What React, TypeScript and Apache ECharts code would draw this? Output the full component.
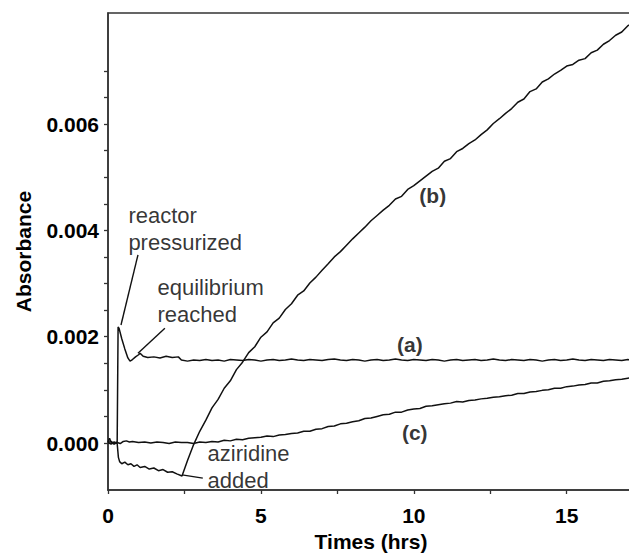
import React, { useEffect, useRef } from "react";
import * as echarts from "echarts";

// ---------- data ----------
const timesEarlyA = [0, 0.1, 0.2, 0.3, 0.33, 0.36, 0.45, 0.55, 0.65, 0.72, 0.8, 0.9, 1.0, 1.05, 1.15, 1.3, 1.5, 1.7, 1.9, 2.1, 2.3, 2.4];
const absEarlyA = [0.00001, 0.00003, -0.00001, 0.00002, 0.00218, 0.00216, 0.00196, 0.00177, 0.0016, 0.00154, 0.00157, 0.00162, 0.00166, 0.00169, 0.00163, 0.00161, 0.00162, 0.0016, 0.00163, 0.00161, 0.00162, 0.00156];

const timesEarlyB = [0, 0.1, 0.2, 0.3, 0.34, 0.38, 0.45, 0.55, 0.65, 0.75, 0.85, 0.95, 1.05, 1.2, 1.35, 1.5, 1.65, 1.8, 1.95, 2.1, 2.25, 2.42];
const absEarlyB = [0.00001, -0.00002, 0.00002, -0.00001, -0.00027, -0.00035, -0.00039, -0.00036, -0.00041, -0.00039, -0.00044, -0.00041, -0.00046, -0.00044, -0.00049, -0.00047, -0.00052, -0.0005, -0.00055, -0.00054, -0.00058, -0.00062];

const timesEarlyC = [0, 0.05, 0.1, 0.2, 0.3, 0.4, 0.5, 0.6, 0.7, 0.8, 1.0, 1.2, 1.4, 1.6, 1.8, 2.0, 2.2, 2.4];
const absEarlyC = [0.00002, 0.00009, 0.00001, -0.00002, 0.00001, -0.00001, 0.00003, 0.00004, 0.00002, 0.00003, 0.00001, 0.00002, 0.0, 0.00002, 0.00001, -0.00001, 0.00002, 0.00001];

const timesLate = [
  2.6, 2.8, 3.0, 3.2, 3.4, 3.6, 3.8, 4.0, 4.2, 4.4,
  4.6, 4.8, 5.0, 5.2, 5.4, 5.6, 5.8, 6.0, 6.2, 6.4,
  6.6, 6.8, 7.0, 7.2, 7.4, 7.6, 7.8, 8.0, 8.2, 8.4,
  8.6, 8.8, 9.0, 9.2, 9.4, 9.6, 9.8, 10.0, 10.2, 10.4,
  10.6, 10.8, 11.0, 11.2, 11.4, 11.6, 11.8, 12.0, 12.2, 12.4,
  12.6, 12.8, 13.0, 13.2, 13.4, 13.6, 13.8, 14.0, 14.2, 14.4,
  14.6, 14.8, 15.0, 15.2, 15.4, 15.6, 15.8, 16.0, 16.2, 16.4,
  16.6, 16.8, 17.0, 17.2,
];

const absLateA = [
  0.00154, 0.00156, 0.00155, 0.00157, 0.00155, 0.00156, 0.00154, 0.00157, 0.00156, 0.00155,
  0.00157, 0.00156, 0.00154, 0.00156, 0.00157, 0.00155, 0.00156, 0.00158, 0.00156, 0.00155,
  0.00157, 0.00156, 0.00155, 0.00157, 0.00158, 0.00156, 0.00155, 0.00157, 0.00156, 0.00154,
  0.00156, 0.00157, 0.00155, 0.00156, 0.00158, 0.00156, 0.00155, 0.00157, 0.00156, 0.00155,
  0.00157, 0.00156, 0.00154, 0.00156, 0.00157, 0.00155, 0.00156, 0.00157, 0.00155, 0.00156,
  0.00158, 0.00156, 0.00155, 0.00157, 0.00156, 0.00155, 0.00157, 0.00156, 0.00154, 0.00156,
  0.00157, 0.00155, 0.00156, 0.00158, 0.00156, 0.00155, 0.00157, 0.00156, 0.00155, 0.00157,
  0.00156, 0.00155, 0.00157, 0.00156,
];

const absLateB = [
  -0.00033, -0.00003, 0.00022, 0.00043, 0.00066, 0.00082, 0.00103, 0.00117, 0.00138, 0.00152,
  0.0017, 0.00181, 0.00199, 0.00209, 0.00226, 0.00235, 0.00251, 0.00262, 0.00278, 0.00286,
  0.00301, 0.00312, 0.00325, 0.00337, 0.0035, 0.0036, 0.00372, 0.00384, 0.00395, 0.00406,
  0.00418, 0.00428, 0.00438, 0.00447, 0.00459, 0.00464, 0.00477, 0.00484, 0.00493, 0.00502,
  0.00511, 0.00517, 0.0053, 0.00535, 0.00548, 0.00554, 0.00563, 0.0057, 0.0058, 0.00589,
  0.00601, 0.0061, 0.0062, 0.00629, 0.00641, 0.00647, 0.00661, 0.00666, 0.00679, 0.00685,
  0.00694, 0.00701, 0.00709, 0.00712, 0.0072, 0.00723, 0.00734, 0.00739, 0.0075, 0.00757,
  0.00767, 0.00773, 0.00785, 0.0079,
];

const absLateC = [
  0.00001, -0.00001, 0.00002, 0.00001, 0.00003, 0.00002, 0.00005, 0.00004, 0.00007, 0.00006,
  0.00009, 0.0001, 0.00011, 0.00013, 0.00012, 0.00015, 0.00016, 0.00018, 0.00019, 0.00022,
  0.00022, 0.00026, 0.00027, 0.00031, 0.00032, 0.00036, 0.00037, 0.0004, 0.00042, 0.00046,
  0.00047, 0.0005, 0.00053, 0.00054, 0.00058, 0.00058, 0.00062, 0.00064, 0.00065, 0.00069,
  0.0007, 0.00072, 0.00074, 0.00075, 0.00078, 0.00077, 0.0008, 0.00081, 0.00083, 0.00084,
  0.00086, 0.00087, 0.00089, 0.0009, 0.00093, 0.00093, 0.00096, 0.00097, 0.00099, 0.001,
  0.00103, 0.00103, 0.00106, 0.00107, 0.00109, 0.0011, 0.00113, 0.00113, 0.00116, 0.00117,
  0.00119, 0.0012, 0.00122, 0.00123,
];

const xLabelValues = [0, 5, 10, 15];
const xTickValues = [0, 2.5, 5, 7.5, 10, 12.5, 15];
const yLabelValues = [0, 0.002, 0.004, 0.006];
const yTickValues = [0, 0.0005, 0.001, 0.0015, 0.002, 0.0025, 0.003, 0.0035, 0.004, 0.0045, 0.005, 0.0055, 0.006, 0.0065, 0.007];

const curveNames = ["(a)", "(b)", "(c)"];
const curveNameAnchors = [[9.87, 0.00186], [10.62, 0.00466], [10.03, 0.0002]];

const noteTexts = ["reactor\npressurized", "equilibrium\nreached", "aziridine", "added"];
const noteAnchors = [[0.65, 0.00402], [1.6, 0.00268], [3.24, -0.0002], [3.24, -0.0007]];

const pointerLines = [
  [[0.98, 0.00354], [0.425, 0.00222]],
  [[1.86, 0.00216], [0.98, 0.00169]],
  [[3.1, -0.00066], [2.42, -0.0006]],
];

// ---------- helpers ----------
const pair = (ts: number[], vs: number[]) => ts.map((t, i) => [t, vs[i]]);

const FONT = "'Liberation Sans', Arial, Helvetica, sans-serif";
const INK = "#000000";
const LINE = "#111111";
const AXIS = "#333333";

export default function App() {
  const ref = useRef<HTMLDivElement>(null);

  useEffect(() => {
    if (!ref.current) return;
    const chart = echarts.init(ref.current, undefined, { renderer: "svg" });

    const lineSeries = (name: string, data: number[][], withMarks = false) => ({
      type: "line",
      name,
      data,
      showSymbol: false,
      symbol: "none",
      lineStyle: { color: LINE, width: 1.5 },
      silent: true,
      z: 3,
      ...(withMarks
        ? {
            markLine: {
              silent: true,
              symbol: "none",
              label: { show: false },
              lineStyle: { color: LINE, width: 1.4, type: "solid" },
              data: pointerLines.map(([a, b]) => [{ coord: a }, { coord: b }]),
            },
          }
        : {}),
    });

    chart.setOption({
      animation: false,
      backgroundColor: "#ffffff",
      textStyle: { fontFamily: FONT },
      grid: {
        left: 108,
        top: 13,
        width: 526,
        height: 477,
        outerBoundsMode: "none",
        containLabel: false,
        show: true,
        borderColor: AXIS,
        borderWidth: 1.5,
        backgroundColor: "transparent",
      },
      xAxis: {
        type: "value",
        min: 0,
        max: 17.2,
        name: "Times (hrs)",
        nameLocation: "middle",
        nameGap: 40,
        nameTextStyle: { fontFamily: FONT, fontWeight: "bold", fontSize: 21, color: INK },
        axisLine: { show: true, onZero: false, lineStyle: { color: AXIS, width: 1.5 } },
        axisTick: { show: true, inside: false, length: 4, customValues: xTickValues, lineStyle: { color: AXIS, width: 1.3 } },
        axisLabel: {
          customValues: xLabelValues,
          margin: 15,
          fontFamily: FONT,
          fontWeight: "bold",
          fontSize: 21,
          color: INK,
          formatter: (v: number) => String(v),
        },
        splitLine: { show: false },
      },
      yAxis: {
        type: "value",
        min: -0.000884,
        max: 0.008088,
        name: "Absorbance",
        nameLocation: "middle",
        nameGap: 74,
        nameTextStyle: { fontFamily: FONT, fontWeight: "bold", fontSize: 21, color: INK },
        axisLine: { show: true, onZero: false, lineStyle: { color: AXIS, width: 1.5 } },
        axisTick: { show: true, inside: false, length: 4, customValues: yTickValues, lineStyle: { color: AXIS, width: 1.3 } },
        axisLabel: {
          customValues: yLabelValues,
          margin: 9,
          fontFamily: FONT,
          fontWeight: "bold",
          fontSize: 21,
          color: INK,
          formatter: (v: number) => v.toFixed(3),
        },
        splitLine: { show: false },
      },
      series: [
        lineSeries("a", [...pair(timesEarlyA, absEarlyA), ...pair(timesLate, absLateA)], true),
        lineSeries("b", [...pair(timesEarlyB, absEarlyB), ...pair(timesLate, absLateB)]),
        lineSeries("c", [...pair(timesEarlyC, absEarlyC), ...pair(timesLate, absLateC)]),
        {
          type: "scatter",
          silent: true,
          symbolSize: 1,
          itemStyle: { color: "rgba(0,0,0,0)" },
          z: 5,
          label: {
            show: true,
            position: "inside",
            formatter: "{b}",
            fontFamily: FONT,
            fontWeight: "bold",
            fontSize: 21,
            color: INK,
          },
          data: curveNames.map((n, i) => ({ name: n, value: curveNameAnchors[i] })),
        },
        {
          type: "scatter",
          silent: true,
          symbolSize: 1,
          itemStyle: { color: "rgba(0,0,0,0)" },
          z: 5,
          label: {
            show: true,
            position: "right",
            distance: 0,
            formatter: "{b}",
            fontFamily: FONT,
            fontSize: 22,
            lineHeight: 27,
            color: INK,
            align: "left",
          },
          data: noteTexts.map((n, i) => ({ name: n, value: noteAnchors[i] })),
        },
      ],
    });

    return () => chart.dispose();
  }, []);

  return (
    <div
      ref={ref}
      style={{ position: "fixed", left: 0, top: 0, width: 629, height: 554, background: "#fff" }}
    />
  );
}
